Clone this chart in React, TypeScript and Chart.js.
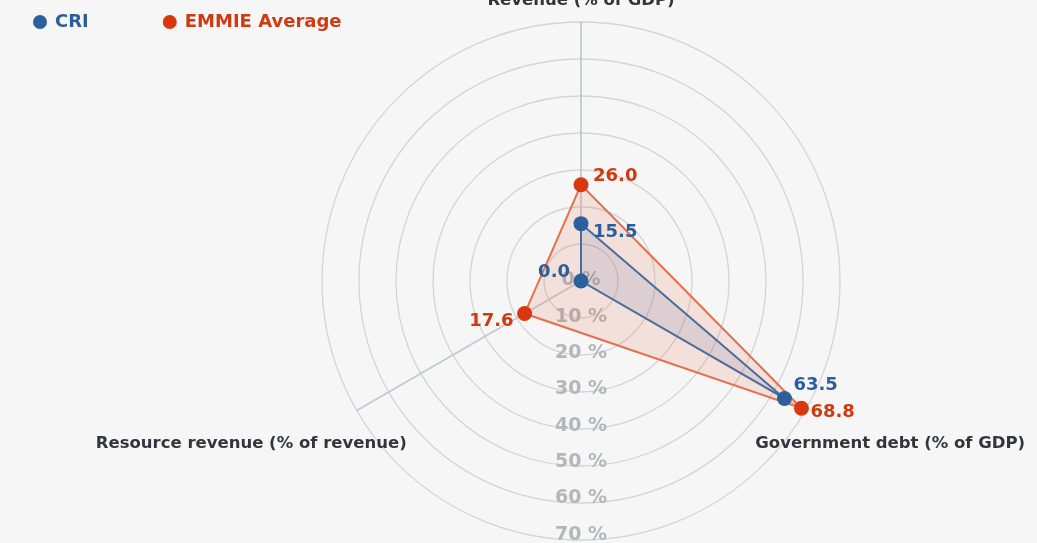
import React, { useEffect, useRef } from "react";
import { Chart, registerables } from "chart.js";

Chart.register(...registerables);

// ---- data ----
const categories = [
  "Revenue (% of GDP)",
  "Government debt (% of GDP)",
  "Resource revenue (% of revenue)",
];
const seriesNames = ["CRI", "EMMIE Average"];
const criValues = [15.5, 63.5, 0.0];
const emmieValues = [26.0, 68.8, 17.6];
const tickValues = [0, 10, 20, 30, 40, 50, 60, 70];
const tickLabels = tickValues.map((v) => `${v} %`);

// ---- label placement (styling only): [dx, dy, align] relative to each point ----
const criLabelPlacement: [number, number, CanvasTextAlign][] = [
  [12, 9, "left"],
  [9, -13, "left"],
  [-11, -9, "right"],
];
const emmieLabelPlacement: [number, number, CanvasTextAlign][] = [
  [12, -8, "left"],
  [9, 4, "left"],
  [-11, 8, "right"],
];

const FONT = '"DejaVu Sans", sans-serif';
const COLORS = {
  criPoint: "#2b5f9e",
  criLine: "#4a6c9b",
  criFill: "rgba(100,118,160,0.17)",
  criText: "#2c5e9b",
  emPoint: "#d7380e",
  emLine: "#e2724f",
  emFill: "rgba(232,95,60,0.14)",
  emText: "#cf3a10",
  axisText: "#30363c",
  tickText: "#b3b6ba",
};

const decorPlugin = {
  id: "decor",
  beforeDatasetsDraw(chart: any) {
    const ctx = chart.ctx;
    const scale = chart.scales.r;
    ctx.save();
    ctx.font = `bold 19px ${FONT}`;
    ctx.fillStyle = COLORS.tickText;
    ctx.textAlign = "center";
    ctx.textBaseline = "middle";
    tickValues.forEach((v, i) => {
      const d = scale.getDistanceFromCenterForValue(v);
      ctx.fillText(tickLabels[i], scale.xCenter, scale.yCenter + d * 0.982 - 0.5);
    });
    ctx.restore();
  },
  afterDatasetsDraw(chart: any) {
    const ctx = chart.ctx;
    const scale = chart.scales.r;
    ctx.save();

    // data labels
    const placements = [criLabelPlacement, emmieLabelPlacement];
    const textColors = [COLORS.criText, COLORS.emText];
    ctx.font = `bold 18px ${FONT}`;
    ctx.textBaseline = "middle";
    chart.data.datasets.forEach((ds: any, di: number) => {
      const meta = chart.getDatasetMeta(di);
      meta.data.forEach((pt: any, j: number) => {
        const [dx, dy, align] = placements[di][j];
        ctx.fillStyle = textColors[di];
        ctx.textAlign = align;
        ctx.fillText(Number(ds.data[j]).toFixed(1), pt.x + dx, pt.y + dy);
      });
    });

    // axis (category) labels
    ctx.font = `bold 16.5px ${FONT}`;
    ctx.fillStyle = COLORS.axisText;
    categories.forEach((c, i) => {
      const p = scale.getPointPosition(i, scale.drawingArea);
      if (i === 0) {
        ctx.textAlign = "center";
        ctx.textBaseline = "alphabetic";
        ctx.fillText(c, p.x, p.y - 17);
      } else if (p.x > scale.xCenter) {
        ctx.textAlign = "left";
        ctx.textBaseline = "middle";
        ctx.fillText(c, p.x - 50, p.y + 33);
      } else {
        ctx.textAlign = "right";
        ctx.textBaseline = "middle";
        ctx.fillText(c, p.x + 50, p.y + 33);
      }
    });

    // legend
    ctx.font = `bold 18px ${FONT}`;
    ctx.textAlign = "left";
    ctx.textBaseline = "middle";
    let x = 33;
    const y = 22;
    chart.data.datasets.forEach((ds: any, di: number) => {
      ctx.fillStyle = ds.pointBackgroundColor;
      ctx.beginPath();
      ctx.arc(x + 7, y, 7, 0, Math.PI * 2);
      ctx.fill();
      ctx.fillStyle = textColors[di];
      ctx.fillText(ds.label, x + 22, y);
      x += 22 + ctx.measureText(ds.label).width + 74;
    });

    ctx.restore();
  },
};

export default function App() {
  const canvasRef = useRef<HTMLCanvasElement | null>(null);

  useEffect(() => {
    if (!canvasRef.current) return;
    const chart = new Chart(canvasRef.current, {
      type: "radar",
      data: {
        labels: categories,
        datasets: [
          {
            label: seriesNames[0],
            data: criValues,
            borderColor: COLORS.criLine,
            backgroundColor: COLORS.criFill,
            pointBackgroundColor: COLORS.criPoint,
            pointBorderColor: COLORS.criPoint,
            pointBorderWidth: 0,
            pointRadius: 7.5,
            borderWidth: 2,
            fill: true,
          },
          {
            label: seriesNames[1],
            data: emmieValues,
            borderColor: COLORS.emLine,
            backgroundColor: COLORS.emFill,
            pointBackgroundColor: COLORS.emPoint,
            pointBorderColor: COLORS.emPoint,
            pointBorderWidth: 0,
            pointRadius: 7.5,
            borderWidth: 2,
            fill: true,
          },
        ],
      },
      options: {
        animation: false,
        responsive: true,
        maintainAspectRatio: false,
        layout: { padding: { top: 22, bottom: 3, left: 125, right: 0 } },
        plugins: {
          legend: { display: false },
          tooltip: { enabled: false },
        },
        elements: { line: { tension: 0 } },
        scales: {
          r: {
            min: 0,
            max: 70,
            ticks: { display: false, stepSize: 10 },
            pointLabels: { display: false },
            grid: { circular: true, color: "#d4d4d4", lineWidth: 1.3 },
            angleLines: { color: "#c4c9d1", lineWidth: 1.8 },
          },
        },
      },
      plugins: [decorPlugin],
    } as any);
    return () => chart.destroy();
  }, []);

  return (
    <div
      style={{
        position: "fixed",
        left: 0,
        top: 0,
        width: 1037,
        height: 543,
        background: "#f6f6f6",
      }}
    >
      <canvas ref={canvasRef} />
    </div>
  );
}
